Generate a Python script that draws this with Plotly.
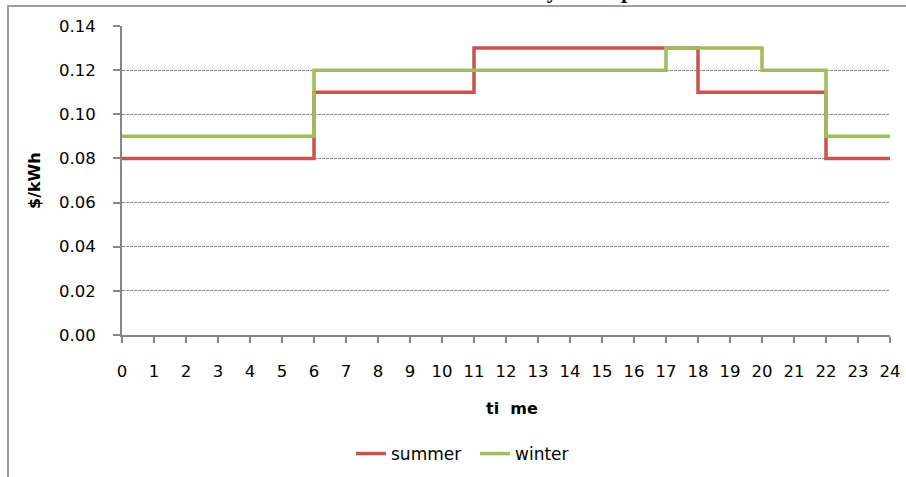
import plotly.graph_objects as go

# Tariff schedule: rate in effect from each hour until the next breakpoint
summer_hours = [0, 6, 11, 18, 22, 24]
summer_rate = [0.08, 0.11, 0.13, 0.11, 0.08, 0.08]

winter_hours = [0, 6, 17, 20, 22, 24]
winter_rate = [0.09, 0.12, 0.13, 0.12, 0.09, 0.09]

hour_ticks = list(range(0, 25))
rate_ticks = [0.00, 0.02, 0.04, 0.06, 0.08, 0.10, 0.12, 0.14]

W, H = 906, 477
L, R, T, B = 122, 16, 26, 142
PW, PH = W - L - R, H - T - B


def px_x(p):
    return (p - L) / PW


def px_y(p):
    return (H - B - p) / PH


FONT = "'DejaVu Sans', Verdana, sans-serif"
AXIS_GREY = "#868686"

fig = go.Figure()
fig.add_trace(go.Scatter(
    x=summer_hours, y=summer_rate, name="summer", mode="lines",
    line=dict(color="#C9534F", width=3.5, shape="hv"),
))
fig.add_trace(go.Scatter(
    x=winter_hours, y=winter_rate, name="winter", mode="lines",
    line=dict(color="#9EBE5B", width=3.5, shape="hv"),
))

fig.update_layout(
    width=W, height=H,
    margin=dict(l=L, r=R, t=T, b=B, pad=0, autoexpand=False),
    paper_bgcolor="white", plot_bgcolor="white",
    font=dict(family=FONT, size=16, color="black"),
    showlegend=True,
    legend=dict(
        orientation="h", x=px_x(351), xanchor="left",
        y=px_y(454), yanchor="middle",
        font=dict(family=FONT, size=17, color="black"),
        entrywidth=79, entrywidthmode="pixels",
        bgcolor="rgba(0,0,0,0)", itemclick=False,
    ),
    xaxis=dict(
        range=[0, 24], tickmode="array", tickvals=hour_ticks,
        ticktext=[str(h) for h in hour_ticks],
        showgrid=False, zeroline=False,
        showline=True, linecolor=AXIS_GREY, linewidth=2,
        ticks="outside", ticklen=6, tickwidth=1.5, tickcolor=AXIS_GREY,
        ticklabelstandoff=14,
        tickfont=dict(family=FONT, size=16.5, color="black"),
    ),
    yaxis=dict(
        range=[0, 0.14], tickmode="array", tickvals=rate_ticks,
        ticktext=[f"{v:.2f}" for v in rate_ticks],
        showgrid=True, gridcolor="#888888", gridwidth=1.3, griddash="3px,1px",
        zeroline=False,
        showline=True, linecolor=AXIS_GREY, linewidth=2,
        ticks="outside", ticklen=7, tickwidth=1.5, tickcolor=AXIS_GREY,
        ticklabelstandoff=14,
        tickfont=dict(family=FONT, size=16.5, color="black"),
    ),
    shapes=[
        # outer chart frame
        dict(type="rect", xref="paper", yref="paper",
             x0=px_x(8), x1=px_x(1000), y0=px_y(600), y1=px_y(6),
             line=dict(color="#a0a0a0", width=2), layer="below"),
    ],
    annotations=[
        dict(text="<b>Electricity TOU  price</b>", xref="paper", yref="paper",
             x=px_x(458), xanchor="left", y=px_y(-10), yanchor="middle",
             showarrow=False,
             font=dict(family="'Liberation Serif', 'Times New Roman', serif",
                       size=22, color="black"),
             ),
        dict(text="<b>$/kWh</b>", xref="paper", yref="paper",
             x=px_x(35), xanchor="center", y=px_y(181), yanchor="middle",
             textangle=-90, showarrow=False,
             font=dict(family=FONT, size=16, color="black")),
        dict(text="<b>ti  me</b>", xref="paper", yref="paper",
             x=px_x(512), xanchor="center", y=px_y(408), yanchor="middle",
             showarrow=False,
             font=dict(family=FONT, size=16, color="black")),
    ],
)

fig.write_html("out.html")
